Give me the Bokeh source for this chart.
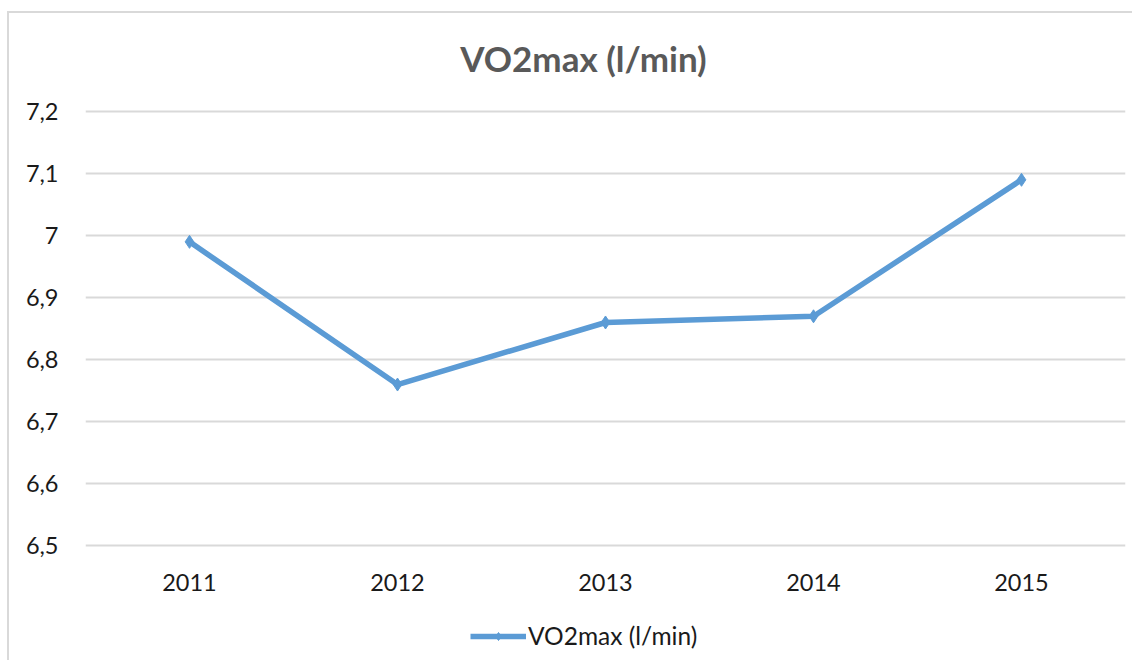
from bokeh.plotting import figure
from bokeh.models import ColumnDataSource, Legend, LegendItem, CustomJSTickFormatter, FixedTicker, Label
from bokeh.embed import file_html
from bokeh.resources import INLINE

years = ["2011", "2012", "2013", "2014", "2015"]
vo2max = [6.99, 6.76, 6.86, 6.87, 7.09]
y_ticks = [6.5, 6.6, 6.7, 6.8, 6.9, 7.0, 7.1, 7.2]
series_name = "VO2max (l/min)"
title_text = "VO2max (l/min)"

FONT = "Lato"
BLUE = "#5B9BD5"
Y_AXIS_MIN = 6.5
Y_AXIS_MAX = 7.2
Y_VIEW_BOTTOM = 6.32   # room below the axis for the legend
Y_VIEW_TOP = 7.35      # room above the grid for the title
TITLE_Y = 7.287        # vertical position of the title inside that room

src = ColumnDataSource(dict(x=years, y=vo2max))

p = figure(x_range=years, y_range=(Y_VIEW_BOTTOM, Y_VIEW_TOP), width=1125, height=649,
           output_backend="svg", toolbar_location=None,
           min_border_left=76, min_border_right=9, min_border_top=5, min_border_bottom=5)
p.styles = {"border-left": "2px solid #d9d9d9", "border-top": "2px solid #d9d9d9",
            "margin-top": "11px", "margin-left": "7px"}
p.outline_line_color = None
p.background_fill_color = "white"
p.border_fill_color = "white"

title = Label(x=(len(years) / 2), y=TITLE_Y, x_offset=-22, text=title_text,
              text_align="center", text_baseline="middle", text_font=FONT,
              text_font_size="35px", text_font_style="bold", text_color="#595959")
p.add_layout(title)

r_line = p.line("x", "y", source=src, line_color=BLUE, line_width=5.5)
r_pts = p.scatter("x", "y", source=src, marker="diamond", size=13, color=BLUE)

p.xgrid.grid_line_color = None
p.ygrid.grid_line_color = "#d9d9d9"
p.ygrid.grid_line_width = 2
p.yaxis.ticker = FixedTicker(ticks=y_ticks)
p.yaxis.formatter = CustomJSTickFormatter(code="""
var s = (Math.round(tick*10)/10).toString();
return s.replace('.', ',');
""")
for ax in (p.xaxis, p.yaxis):
    ax.axis_line_color = None
    ax.major_tick_line_color = None
    ax.minor_tick_line_color = None
    ax.major_label_text_font = FONT
    ax.major_label_text_font_size = "23.5px"
    ax.major_label_text_color = "#1a1a1a"
p.xaxis.fixed_location = Y_AXIS_MIN
p.xaxis.major_label_standoff = 22
p.yaxis.major_label_standoff = 21

legend = Legend(items=[LegendItem(label=series_name, renderers=[r_line, r_pts])],
                location=(385, 7), orientation="horizontal",
                label_text_font=FONT, label_text_font_size="24.5px", label_text_color="#1a1a1a",
                glyph_width=56, border_line_color=None, background_fill_alpha=0,
                label_standoff=2, margin=0, padding=0)
p.add_layout(legend, "center")

open("out.html", "w").write(file_html(p, INLINE))
